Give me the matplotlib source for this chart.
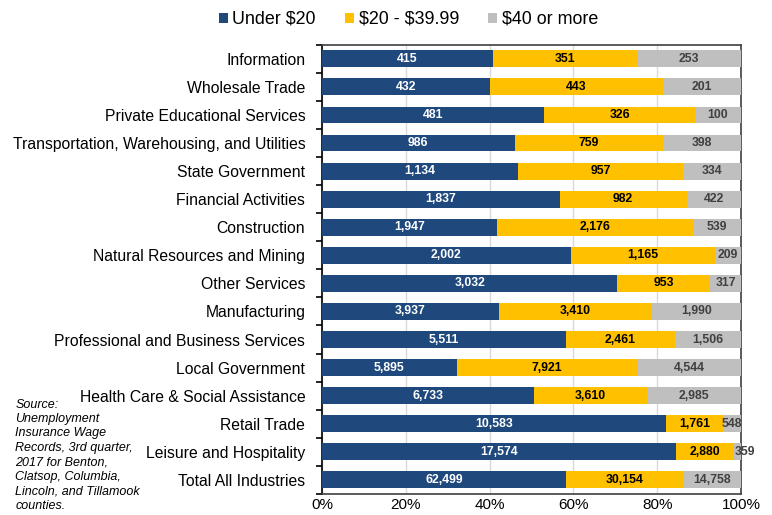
import matplotlib
matplotlib.use("Agg")
import matplotlib.pyplot as plt
import numpy as np

plt.rcParams['font.family'] = ['Liberation Sans', 'DejaVu Sans']

industries = [
    "Information",
    "Wholesale Trade",
    "Private Educational Services",
    "Transportation, Warehousing, and Utilities",
    "State Government",
    "Financial Activities",
    "Construction",
    "Natural Resources and Mining",
    "Other Services",
    "Manufacturing",
    "Professional and Business Services",
    "Local Government",
    "Health Care & Social Assistance",
    "Retail Trade",
    "Leisure and Hospitality",
    "Total All Industries",
]
under_20 = [415, 432, 481, 986, 1134, 1837, 1947, 2002, 3032, 3937, 5511, 5895, 6733, 10583, 17574, 62499]
mid_20_40 = [351, 443, 326, 759, 957, 982, 2176, 1165, 953, 3410, 2461, 7921, 3610, 1761, 2880, 30154]
over_40 = [253, 201, 100, 398, 334, 422, 539, 209, 317, 1990, 1506, 4544, 2985, 548, 359, 14758]

series_names = [r"Under \$20", r"\$20 - \$39.99", r"\$40 or more"]
colors = ["#1F497D", "#FFC000", "#BFBFBF"]
text_colors = ["white", "black", "#404040"]

data = np.array([under_20, mid_20_40, over_40], dtype=float)
shares = data / data.sum(axis=0)

fig = plt.figure(figsize=(7.72, 5.15), dpi=100)
ax = fig.add_axes([0.417, 0.041, 0.543, 0.872])

y = np.arange(len(industries))
left = np.zeros(len(industries))
for k in range(3):
    ax.barh(y, shares[k], left=left, height=0.6, color=colors[k],
            label=series_names[k], zorder=3)
    for i in range(len(industries)):
        cx = left[i] + shares[k][i] / 2
        ha = "center"
        if k == 2 and shares[k][i] < 0.04:
            cx = left[i] + 0.001
            ha = "left"
        ax.text(cx, y[i], f"{int(data[k][i]):,}", ha=ha, va="center",
                fontsize=8.8, fontweight="bold", color=text_colors[k], zorder=4)
    left += shares[k]

ax.set_xlim(0, 1)
ax.set_ylim(len(industries) - 0.5, -0.5)
ax.set_xticks(np.linspace(0, 1, 6))
ax.set_xticklabels([f"{int(v)}%" for v in np.linspace(0, 100, 6)], fontsize=11)
ax.xaxis.grid(True, color="#D9D9D9", linewidth=1, zorder=0)
ax.tick_params(axis="x", length=0, pad=3)

ax.set_yticks(y)
ax.set_yticklabels(industries, fontsize=11.3)
ax.tick_params(axis="y", which="major", length=0, pad=12)
ax.set_yticks(np.arange(-0.5, len(industries), 1), minor=True)
ax.tick_params(axis="y", which="minor", length=4, width=1.2, direction="out", color="black")

for s in ax.spines.values():
    s.set_color("#404040")
    s.set_linewidth(1.2)
ax.spines["left"].set_color("black")

fig.legend(loc="upper center", bbox_to_anchor=(0.529, 1.01), ncol=3, frameon=False,
           fontsize=12.9, handlelength=0.5, handleheight=0.5, handletextpad=0.25,
           columnspacing=1.65)

fig.text(0.02, 0.226,
         "Source:\nUnemployment\nInsurance Wage\nRecords, 3rd quarter,\n2017 for Benton,\n"
         "Clatsop, Columbia,\nLincoln, and Tillamook\ncounties.",
         fontsize=9.0, style="italic", va="top", ha="left", linespacing=1.27)

fig.savefig("out.png", dpi=100)
